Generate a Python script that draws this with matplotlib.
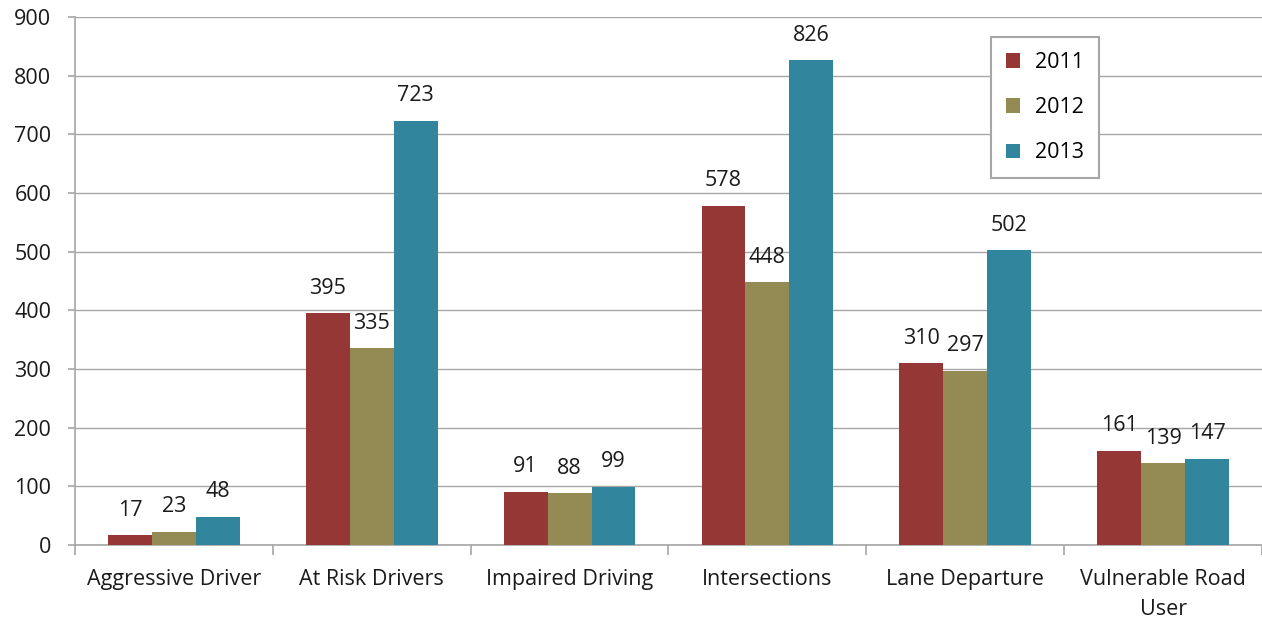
import matplotlib.pyplot as plt
import numpy as np

categories = ['Aggressive Driver', 'At Risk Drivers', 'Impaired Driving',
              'Intersections', 'Lane Departure', 'Vulnerable Road\nUser']
years = ['2011', '2012', '2013']
v2011 = [17, 395, 91, 578, 310, 161]
v2012 = [23, 335, 88, 448, 297, 139]
v2013 = [48, 723, 99, 826, 502, 147]
colors = ['#953735', '#948A54', '#31859C']

plt.rcParams['font.family'] = ['Open Sans', 'DejaVu Sans']
fs = 15.5

fig = plt.figure(figsize=(12.62, 6.24), dpi=100)
ax = fig.add_axes([0.0594, 0.1266, 0.9406, 0.8462])

x = np.arange(len(categories))
w = 0.222
for i, (vals, c, yr) in enumerate(zip([v2011, v2012, v2013], colors, years)):
    pos = x + (i - 1) * w
    ax.bar(pos, vals, width=w, color=c, label=yr, zorder=3)
    for p, v in zip(pos, vals):
        ax.annotate(str(v), (p, v), xytext=(0, 18), textcoords='offset points',
                    ha='center', va='center', fontsize=fs, color='#1a1a1a')

ax.set_xlim(-0.5, len(categories) - 0.5)
ax.set_ylim(0, 900)
ax.set_yticks(range(0, 901, 100))
ax.grid(axis='y', color='#a6a6a6', linewidth=1, zorder=0)

ax.set_xticks(x)
ax.set_xticklabels(categories, fontsize=fs, color='#1a1a1a', linespacing=1.6)
ax.tick_params(axis='x', length=0, pad=17)
ax.set_xticks(np.arange(-0.5, len(categories)), minor=True)
ax.tick_params(axis='x', which='minor', length=7, color='#a6a6a6', width=1.2)
ax.tick_params(axis='y', length=5, color='#a6a6a6', width=1.2, labelsize=fs,
               labelcolor='#1a1a1a', pad=12)

for s in ['top', 'right']:
    ax.spines[s].set_visible(False)
for s in ['left', 'bottom']:
    ax.spines[s].set_color('#a6a6a6')
    ax.spines[s].set_linewidth(1.2)

leg = ax.legend(loc='upper left', bbox_to_anchor=(0.7717, 0.962), borderaxespad=0,
                fontsize=fs, handlelength=0.65, handleheight=0.65, labelspacing=1.12,
                borderpad=0.7, handletextpad=0.7, fancybox=False,
                edgecolor='#a6a6a6', framealpha=1)
leg.get_frame().set_linewidth(1.5)

fig.savefig('out.png', dpi=100)
